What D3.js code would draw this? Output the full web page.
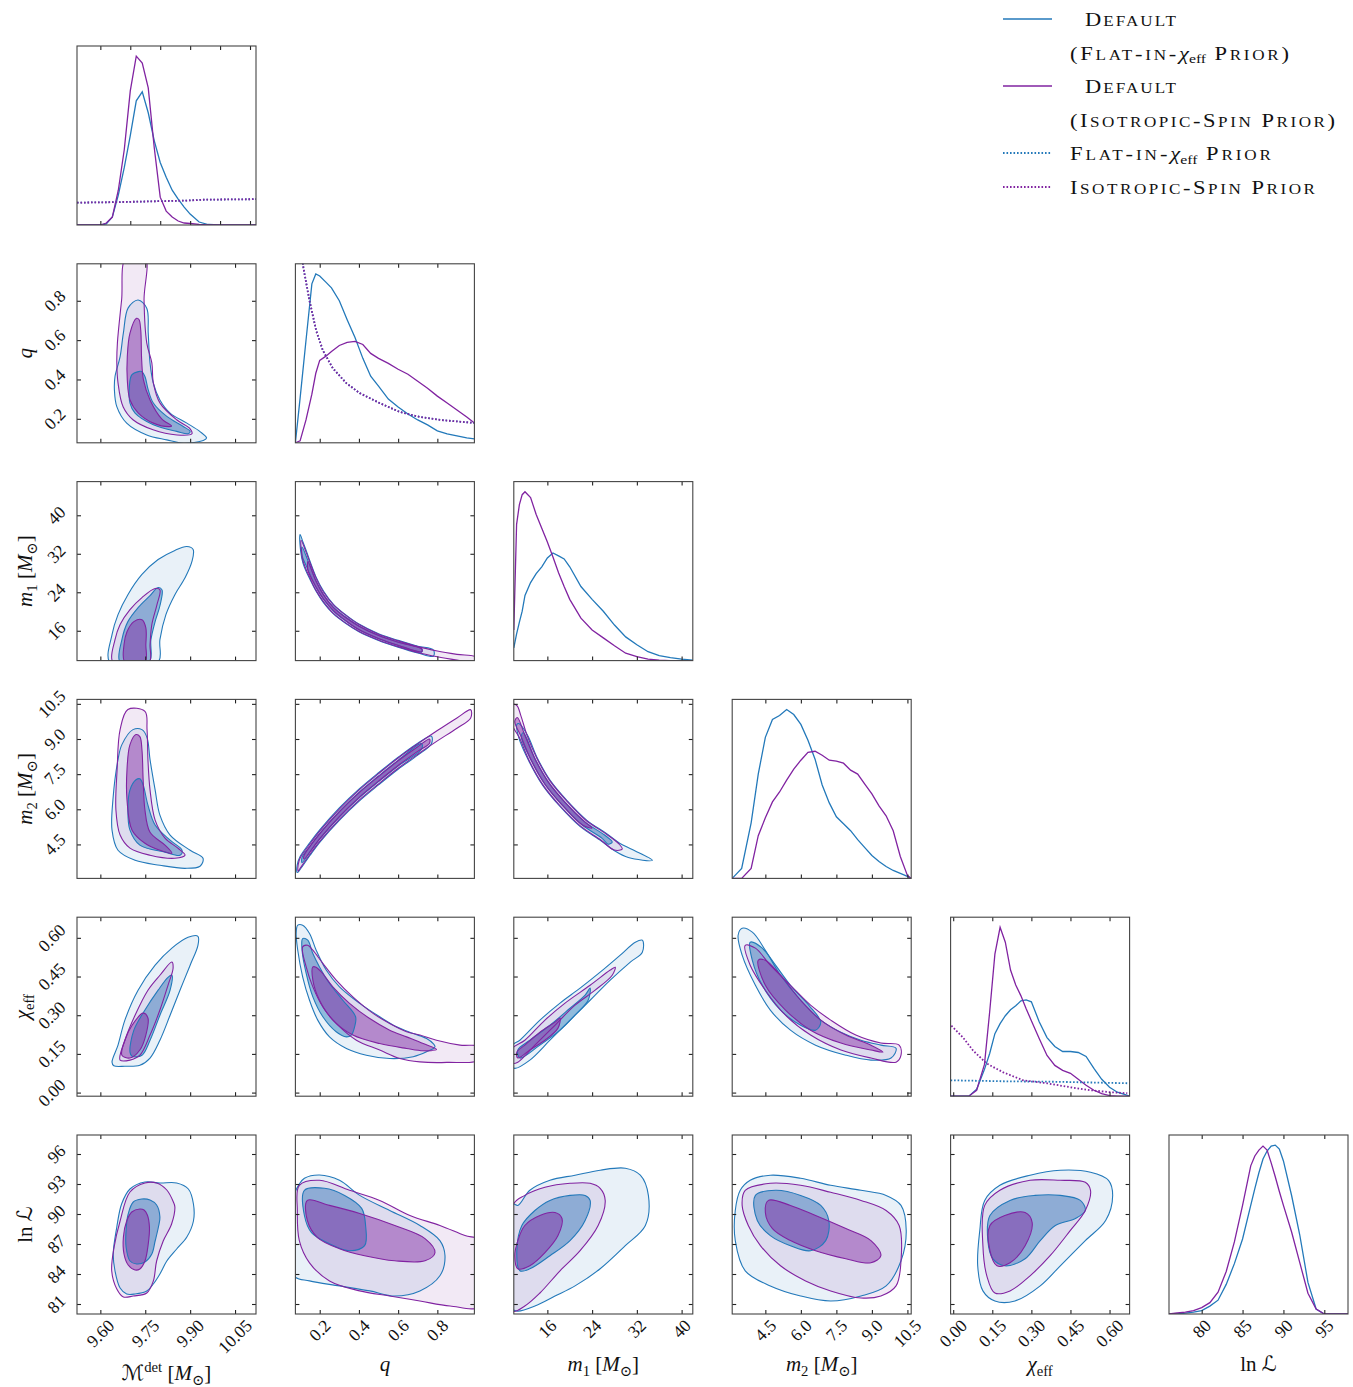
<!DOCTYPE html>
<html>
<head>
<meta charset="utf-8">
<script src="https://cdn.jsdelivr.net/npm/d3@7/dist/d3.min.js"></script>
<style>
  body { margin: 0; background: #fff; }
  text { font-family: "Liberation Serif", "DejaVu Serif", "DejaVu Sans", serif; fill: #111; }
</style>
</head>
<body>
<svg id="chart" width="1353" height="1387"></svg>
<script>
var BLUE = "#2379ba", PURPLE = "#8123a1";

// axis ranges
var mcRange = [9.522, 10.12];
var qRangeX = [0.076, 0.989], qRangeY = [0.078, 0.988];
var m1RangeX = [10.0, 42.0], m1RangeY = [9.8, 47.0];
var m2RangeX = [3.10, 10.66], m2RangeY = [3.05, 10.69];
var chiRangeX = [-0.01, 0.677], chiRangeY = [-0.014, 0.68];
var lnLRangeX = [76, 97.9], lnLRangeY = [80.0, 97.9];

// tick values
var mcTicks = [9.60, 9.75, 9.90, 10.05];
var mcDiagTicks = [9.6, 9.7, 9.8, 9.9, 10.0, 10.1];
var qTicks = [0.2, 0.4, 0.6, 0.8];
var m1Ticks = [16, 24, 32, 40];
var m2Ticks = [4.5, 6.0, 7.5, 9.0, 10.5];
var chiTicks = [0.00, 0.15, 0.30, 0.45, 0.60];
var lnLTicksY = [81, 84, 87, 90, 93, 96];
var lnLDiagTicks = [80, 85, 90, 95];

// ---- 1D marginals (relative density) ----
var mcGrid = [9.522, 9.55, 9.60, 9.62, 9.64, 9.66, 9.68, 9.70, 9.72, 9.74, 9.76, 9.78, 9.80, 9.82, 9.84, 9.86, 9.88, 9.90, 9.93, 9.96, 10.0, 10.05, 10.12];
var mcBlue = [0, 0, 0, 1, 8, 30, 58, 90, 125, 134, 113, 85, 63, 48, 35, 26, 18, 11, 3, 0.5, 0, 0, 0];
var mcPurple = [0, 0, 0, 2, 8, 35, 76, 135, 170, 163, 138, 78, 28, 14, 8, 4, 2, 1.5, 0.5, 0, 0, 0, 0];
var mcPriorX = [9.522, 9.65, 9.80, 9.88, 9.95, 10.12];
var mcPrior = [22.5, 23, 24, 24.5, 25.5, 26];

var qGrid = [0.076, 0.10, 0.13, 0.16, 0.18, 0.20, 0.23, 0.26, 0.30, 0.34, 0.38, 0.42, 0.46, 0.50, 0.55, 0.60, 0.65, 0.70, 0.75, 0.80, 0.85, 0.90, 0.95, 0.989];
var qBlue = [0, 45, 103, 160, 170, 168, 162, 156, 143, 124, 106, 85, 67, 57, 44, 36, 29, 23, 18, 12, 9, 7, 5, 4];
var qPurple = [0, 2, 23, 49, 70, 83, 87, 92, 98, 101, 102, 99, 90, 85, 80, 74, 69, 62, 55, 47, 40, 33, 26, 20];
var qPriorX = [0.105, 0.117, 0.148, 0.182, 0.216, 0.267, 0.336, 0.404, 0.506, 0.609, 0.711, 0.814, 0.989];
var qPrior = [195, 176, 143, 113, 93, 75, 60, 50, 40, 31, 26, 23, 20];

var m1Grid = [10, 10.5, 11, 11.5, 12, 13, 14, 15, 16, 17, 18, 19, 20, 22, 24, 26, 28, 30, 32, 34, 36, 38, 40, 42];
var m1Blue = [13, 27, 39, 50, 66, 79, 88, 95, 104, 109, 106, 103, 95, 75, 62, 50, 36, 24, 16, 9, 5, 3, 1.5, 0.5];
var m1Purple = [31, 138, 158, 168, 171, 165, 148, 134, 120, 105, 89, 75, 62, 43, 31, 23, 15, 7.5, 4, 1.5, 0.5, 0, 0, 0];

var m2Grid = [3.1, 3.5, 3.9, 4.2, 4.5, 4.8, 5.1, 5.4, 5.7, 6.0, 6.3, 6.6, 6.9, 7.2, 7.5, 7.8, 8.1, 8.4, 8.7, 9.0, 9.3, 9.6, 9.9, 10.2, 10.5, 10.66];
var m2Blue = [0, 10, 56, 105, 142, 160, 164, 170, 165, 155, 139, 120, 94, 76, 62, 55, 48, 39, 31, 23, 17, 12, 8, 5, 2, 0];
var m2Purple = [0, 0, 10, 43, 61, 77, 87, 99, 110, 119, 127, 128, 124, 119, 118, 116, 109, 105, 95, 85, 73, 63, 48, 22, 3, 0];

var chiGrid = [-0.01, 0.03, 0.06, 0.09, 0.12, 0.14, 0.16, 0.18, 0.20, 0.22, 0.24, 0.26, 0.28, 0.30, 0.33, 0.36, 0.39, 0.42, 0.45, 0.48, 0.51, 0.54, 0.57, 0.60, 0.63, 0.66, 0.677];
var chiBlue = [0, 0, 0, 7, 27, 43, 63, 73, 81, 87, 91, 96, 97, 95, 75, 59, 50, 45, 45, 44, 40, 28, 17, 9, 4, 1.5, 0];
var chiPurple = [0, 0, 0, 6, 32, 85, 143, 170, 155, 127, 112, 101, 88, 76, 58, 41, 31, 26, 23, 17, 11, 6, 2.5, 0.5, 0, 0, 0];
var chiBluePriorX = [-0.01, 0.2, 0.4, 0.677];
var chiBluePrior = [16, 15, 14.5, 13];
var chiPurplePriorX = [-0.007, 0.038, 0.076, 0.128, 0.192, 0.269, 0.36, 0.45, 0.527, 0.604, 0.668];
var chiPurplePrior = [71, 59, 46, 33, 24, 16, 13, 9, 6, 4, 3];

var lnLGrid = [76, 77, 78, 79, 80, 81, 82, 83, 84, 85, 86, 86.5, 87, 87.5, 88, 88.5, 89, 89.5, 90, 91, 92, 93, 94, 95, 96, 97.9];
var lnLBlue = [0, 0, 0.8, 2, 3.5, 8, 14, 30, 51, 76, 110, 127, 143, 157, 165, 170, 171, 167, 155, 120, 80, 32, 5, 0, 0, 0];
var lnLPurple = [0, 1, 1.8, 3.5, 6.5, 11.5, 22, 43, 73, 110, 150, 160, 166, 170, 166, 153, 139, 124, 110, 83, 52, 21, 5, 0, 0, 0];

// ---- 2D credible contours (outer / inner), data units [x, y] ----
var mcQ = {
  blueOuter: [[9.726,0.804],[9.693,0.764],[9.677,0.637],[9.666,0.516],[9.649,0.415],[9.647,0.347],[9.655,0.262],[9.688,0.178],[9.755,0.118],[9.822,0.093],[9.877,0.076],[9.944,0.090],[9.955,0.102],[9.933,0.135],[9.889,0.178],[9.833,0.229],[9.799,0.296],[9.777,0.381],[9.766,0.483],[9.760,0.635],[9.755,0.762]],
  blueInner: [[9.727,0.440],[9.705,0.423],[9.697,0.364],[9.699,0.280],[9.716,0.229],[9.777,0.170],[9.855,0.136],[9.894,0.124],[9.900,0.136],[9.877,0.161],[9.822,0.212],[9.777,0.280],[9.760,0.347],[9.749,0.415],[9.738,0.440]],
  purpleOuter: [[9.686,1.02],[9.671,0.804],[9.657,0.586],[9.655,0.484],[9.659,0.383],[9.676,0.261],[9.709,0.195],[9.776,0.144],[9.856,0.118],[9.906,0.124],[9.900,0.149],[9.855,0.195],[9.799,0.281],[9.777,0.383],[9.772,0.484],[9.755,0.586],[9.746,0.804],[9.749,1.02]],
  purpleInner: [[9.721,0.711],[9.699,0.636],[9.690,0.516],[9.690,0.398],[9.699,0.296],[9.727,0.229],[9.777,0.178],[9.830,0.160],[9.838,0.163],[9.805,0.200],[9.766,0.296],[9.744,0.398],[9.738,0.50],[9.735,0.65],[9.729,0.705]]
};
var mcM1 = {
  blueOuter: [[9.632,9.5],[9.639,15.2],[9.659,19.35],[9.692,23.5],[9.739,27.7],[9.793,30.8],[9.849,32.7],[9.889,33.5],[9.910,32.9],[9.906,30.4],[9.883,27.0],[9.849,23.5],[9.819,19.35],[9.799,14.15],[9.793,9.5]],
  blueInner: [[9.666,9.5],[9.672,14.15],[9.692,17.9],[9.726,20.8],[9.766,23.3],[9.793,25.0],[9.806,24.5],[9.799,21.2],[9.783,17.9],[9.769,14.15],[9.763,9.5]],
  purpleOuter: [[9.642,9.5],[9.649,14.15],[9.666,17.3],[9.699,20.4],[9.739,22.9],[9.783,24.8],[9.799,24.5],[9.789,21.4],[9.772,17.3],[9.766,13.1],[9.763,9.5]],
  purpleInner: [[9.682,9.5],[9.679,13.1],[9.689,15.8],[9.712,17.9],[9.739,18.3],[9.752,16.6],[9.752,13.1],[9.749,9.5]]
};
var mcM2 = {
  blueOuter: [[9.709,9.40],[9.672,8.76],[9.659,8.12],[9.642,6.40],[9.639,5.11],[9.659,4.25],[9.716,3.82],[9.799,3.61],[9.883,3.48],[9.933,3.57],[9.943,3.91],[9.900,4.25],[9.833,4.90],[9.799,5.75],[9.783,6.83],[9.766,8.12],[9.756,9.06],[9.739,9.40]],
  blueInner: [[9.719,7.26],[9.699,6.83],[9.692,5.97],[9.699,5.11],[9.732,4.47],[9.816,4.17],[9.866,4.04],[9.873,4.25],[9.833,4.68],[9.783,5.33],[9.759,6.18],[9.743,7.04],[9.732,7.30]],
  purpleOuter: [[9.692,10.26],[9.666,9.40],[9.656,7.69],[9.652,5.97],[9.666,4.90],[9.699,4.34],[9.766,4.04],[9.849,3.91],[9.883,4.04],[9.859,4.34],[9.816,4.77],[9.783,5.54],[9.766,6.83],[9.759,8.12],[9.756,9.40],[9.749,10.18]],
  purpleInner: [[9.719,9.19],[9.699,8.76],[9.689,7.69],[9.689,6.40],[9.706,5.11],[9.749,4.55],[9.799,4.25],[9.839,4.12],[9.816,4.47],[9.766,5.02],[9.749,5.97],[9.743,7.26],[9.739,8.54],[9.732,9.10]]
};
var mcChi = {
  blueOuter: [[9.639,0.118],[9.659,0.184],[9.682,0.281],[9.726,0.397],[9.783,0.494],[9.839,0.560],[9.893,0.602],[9.926,0.606],[9.926,0.571],[9.900,0.494],[9.866,0.397],[9.833,0.300],[9.799,0.203],[9.766,0.134],[9.732,0.106],[9.682,0.102],[9.645,0.104]],
  blueInner: [[9.699,0.157],[9.712,0.242],[9.749,0.320],[9.793,0.397],[9.826,0.447],[9.839,0.455],[9.833,0.397],[9.799,0.300],[9.766,0.203],[9.739,0.145],[9.706,0.141]],
  purpleOuter: [[9.666,0.126],[9.682,0.203],[9.716,0.300],[9.759,0.397],[9.799,0.455],[9.839,0.506],[9.843,0.482],[9.826,0.416],[9.799,0.320],[9.766,0.223],[9.732,0.145],[9.699,0.126]],
  purpleInner: [[9.672,0.145],[9.682,0.203],[9.706,0.261],[9.743,0.308],[9.759,0.289],[9.752,0.223],[9.732,0.165],[9.699,0.134]]
};
var mcLnL = {
  blueOuter: [[9.749,93.2],[9.699,92.5],[9.671,91.0],[9.655,88.7],[9.643,86.0],[9.649,84.3],[9.666,82.6],[9.688,82.0],[9.716,82.0],[9.755,82.3],[9.777,83.0],[9.799,84.0],[9.822,85.3],[9.855,86.5],[9.889,87.7],[9.911,89.3],[9.911,91.0],[9.894,92.5],[9.855,93.1],[9.799,93.1]],
  blueInner: [[9.738,91.5],[9.710,91.2],[9.693,90.0],[9.686,88.4],[9.686,86.7],[9.699,85.3],[9.721,85.0],[9.749,85.2],[9.772,86.0],[9.783,87.3],[9.794,88.7],[9.799,89.7],[9.788,90.9],[9.766,91.4]],
  purpleOuter: [[9.749,93.1],[9.699,92.2],[9.666,89.3],[9.646,86.7],[9.638,84.3],[9.655,82.5],[9.677,81.7],[9.710,81.8],[9.755,82.1],[9.777,83.3],[9.788,85.3],[9.810,87.3],[9.838,89.0],[9.849,90.7],[9.844,91.2],[9.822,92.4],[9.788,93.1]],
  purpleInner: [[9.732,90.5],[9.705,90.2],[9.688,89.3],[9.677,87.7],[9.679,86.0],[9.693,84.9],[9.716,84.4],[9.732,84.5],[9.749,85.3],[9.760,87.0],[9.764,88.7],[9.757,89.9],[9.746,90.4]]
};
var qM1 = {
  blueOuter: [[0.100,36.0],[0.115,34.4],[0.13,32.8],[0.15,30.5],[0.18,27.3],[0.22,24.2],[0.27,21.5],[0.33,19.4],[0.40,17.4],[0.50,15.4],[0.60,14.0],[0.70,12.8],[0.78,12.0],[0.78,10.7],[0.70,11.4],[0.60,12.6],[0.50,14.0],[0.40,15.8],[0.33,17.6],[0.27,19.5],[0.22,21.8],[0.18,24.3],[0.15,26.7],[0.13,28.4],[0.115,30.0],[0.103,32.5]],
  blueInner: [[0.11,33.4],[0.13,31.6],[0.15,29.5],[0.18,26.5],[0.22,23.5],[0.27,20.9],[0.33,18.9],[0.40,17.0],[0.50,15.05],[0.60,13.65],[0.72,12.3],[0.72,11.6],[0.60,12.95],[0.50,14.35],[0.40,16.2],[0.33,18.1],[0.27,20.1],[0.22,22.5],[0.18,25.1],[0.15,27.7],[0.13,29.6],[0.11,31.6]],
  purpleOuter: [[0.105,34.8],[0.13,32.4],[0.15,30.2],[0.18,27.1],[0.22,24.0],[0.27,21.4],[0.33,19.3],[0.40,17.3],[0.50,15.3],[0.60,13.9],[0.70,12.7],[0.80,11.8],[0.90,11.1],[1.0,10.5],[1.0,9.3],[0.90,9.9],[0.80,10.6],[0.70,11.5],[0.60,12.7],[0.50,14.1],[0.40,15.9],[0.33,17.7],[0.27,19.6],[0.22,22.0],[0.18,24.5],[0.15,27.0],[0.13,28.8],[0.112,31.0]],
  purpleInner: [[0.14,30.4],[0.18,26.4],[0.22,23.4],[0.27,20.8],[0.33,18.8],[0.40,16.95],[0.50,15.0],[0.60,13.6],[0.72,12.25],[0.72,11.65],[0.60,13.0],[0.50,14.4],[0.40,16.25],[0.33,18.2],[0.27,20.2],[0.22,22.6],[0.18,25.2],[0.14,28.6]]
};
var qM2 = {
  blueOuter: [[0.085,3.62],[0.10,3.98],[0.15,4.58],[0.20,5.12],[0.30,6.06],[0.40,6.86],[0.50,7.56],[0.60,8.22],[0.70,8.82],[0.77,9.12],[0.77,8.80],[0.70,8.31],[0.60,7.71],[0.50,7.04],[0.40,6.34],[0.30,5.53],[0.20,4.59],[0.15,4.03],[0.10,3.43],[0.085,3.30]],
  blueInner: [[0.11,3.95],[0.15,4.42],[0.20,4.97],[0.30,5.91],[0.40,6.72],[0.50,7.42],[0.60,8.09],[0.72,8.81],[0.72,8.57],[0.60,7.85],[0.50,7.18],[0.40,6.48],[0.30,5.67],[0.20,4.73],[0.15,4.18],[0.11,3.72]],
  purpleOuter: [[0.09,3.62],[0.10,3.92],[0.15,4.52],[0.20,5.07],[0.30,6.01],[0.40,6.82],[0.50,7.52],[0.60,8.19],[0.70,8.79],[0.80,9.36],[0.90,9.90],[0.97,10.25],[0.97,9.90],[0.90,9.46],[0.80,8.92],[0.70,8.35],[0.60,7.75],[0.50,7.08],[0.40,6.38],[0.30,5.57],[0.20,4.63],[0.15,4.08],[0.10,3.48],[0.09,3.36]],
  purpleInner: [[0.12,4.02],[0.20,4.95],[0.30,5.89],[0.40,6.70],[0.50,7.40],[0.60,8.07],[0.70,8.67],[0.76,9.0],[0.76,8.82],[0.70,8.47],[0.60,7.87],[0.50,7.20],[0.40,6.50],[0.30,5.69],[0.20,4.75],[0.12,3.88]]
};
var m1M2 = {
  blueOuter: [[10.90,9.66],[12.44,9.17],[14.20,8.19],[16.57,7.21],[19.48,6.38],[23.02,5.54],[26.48,4.98],[28.92,4.55],[31.18,4.28],[34.78,3.82],[30.47,3.94],[27.95,4.24],[25.58,4.66],[21.87,5.26],[18.22,6.13],[15.17,7.02],[12.73,8.04],[10.90,9.05],[10.54,9.62]],
  blueInner: [[11.71,9.27],[13.81,8.15],[16.18,7.16],[19.12,6.31],[22.69,5.46],[26.23,4.90],[27.59,4.6],[26.88,4.51],[25.83,4.75],[22.19,5.34],[18.58,6.20],[15.57,7.07],[13.14,8.08],[11.33,9.1]],
  purpleOuter: [[9.7,10.47],[10.54,10.43],[11.26,10.0],[12.35,9.17],[14.13,8.18],[16.5,7.2],[19.41,6.37],[22.94,5.52],[26.43,4.96],[28.85,4.51],[29.39,4.30],[27.95,4.26],[25.6,4.68],[21.94,5.28],[18.29,6.14],[15.24,7.03],[12.80,8.05],[10.99,9.06],[9.7,9.62]],
  purpleInner: [[10.63,9.92],[12.01,9.14],[13.79,8.15],[16.18,7.16],[19.12,6.31],[22.69,5.46],[24.0,5.2],[22.2,5.34],[18.58,6.20],[15.57,7.07],[13.14,8.08],[11.33,9.09],[10.18,9.75]]
};
var qChi = {
  blueOuter: [[0.088,0.649],[0.080,0.617],[0.088,0.552],[0.113,0.449],[0.148,0.358],[0.190,0.281],[0.250,0.216],[0.336,0.171],[0.438,0.145],[0.557,0.132],[0.677,0.139],[0.745,0.158],[0.788,0.177],[0.779,0.190],[0.745,0.210],[0.677,0.229],[0.592,0.255],[0.506,0.294],[0.404,0.346],[0.301,0.410],[0.233,0.475],[0.182,0.552],[0.148,0.617],[0.113,0.649]],
  blueInner: [[0.113,0.597],[0.110,0.552],[0.131,0.462],[0.165,0.371],[0.216,0.294],[0.284,0.236],[0.336,0.216],[0.361,0.223],[0.378,0.255],[0.383,0.294],[0.318,0.358],[0.250,0.423],[0.199,0.487],[0.165,0.539],[0.139,0.591]],
  purpleOuter: [[0.113,0.565],[0.131,0.487],[0.165,0.410],[0.216,0.332],[0.284,0.268],[0.387,0.203],[0.506,0.165],[0.609,0.132],[0.711,0.119],[0.848,0.117],[1.02,0.128],[1.02,0.177],[0.916,0.184],[0.796,0.203],[0.711,0.223],[0.643,0.236],[0.557,0.268],[0.472,0.307],[0.369,0.371],[0.284,0.436],[0.216,0.501],[0.165,0.552],[0.139,0.571]],
  purpleInner: [[0.165,0.487],[0.165,0.436],[0.199,0.358],[0.267,0.281],[0.369,0.223],[0.506,0.190],[0.643,0.171],[0.728,0.162],[0.796,0.167],[0.728,0.190],[0.643,0.216],[0.557,0.242],[0.455,0.287],[0.352,0.346],[0.267,0.410],[0.208,0.468],[0.178,0.487]]
};
var qLnL = {
  blueOuter: [[0.122,93.57],[0.199,93.9],[0.301,93.37],[0.404,91.86],[0.557,90.35],[0.711,88.85],[0.813,87.34],[0.839,85.83],[0.813,83.82],[0.711,82.31],[0.583,81.80],[0.455,82.31],[0.301,82.81],[0.148,83.31],[0.07,83.82],[0.07,91.86],[0.096,93.0]],
  blueInner: [[0.122,92.37],[0.224,92.57],[0.327,91.86],[0.414,90.56],[0.434,88.85],[0.429,86.83],[0.352,86.33],[0.250,87.03],[0.158,88.14],[0.122,89.85]],
  purpleOuter: [[0.096,92.87],[0.199,93.37],[0.352,92.37],[0.506,91.36],[0.660,89.85],[0.813,88.85],[0.941,87.84],[1.02,87.34],[1.02,80.80],[0.865,80.80],[0.711,81.30],[0.557,81.80],[0.404,82.31],[0.250,83.31],[0.148,85.12],[0.096,87.34],[0.086,90.35]],
  purpleInner: [[0.137,91.36],[0.250,90.86],[0.404,90.05],[0.583,88.85],[0.737,87.54],[0.788,86.13],[0.737,85.32],[0.583,85.32],[0.429,85.83],[0.301,86.53],[0.189,87.64],[0.137,89.35]]
};
var m1Chi = {
  blueOuter: [[9.8,0.184],[11.08,0.203],[14.67,0.281],[18.26,0.347],[21.85,0.405],[25.44,0.467],[29.03,0.533],[31.72,0.583],[32.98,0.591],[32.98,0.544],[30.83,0.506],[27.24,0.436],[23.64,0.358],[20.05,0.281],[16.46,0.203],[12.87,0.126],[10.18,0.094],[9.8,0.10]],
  blueInner: [[10.72,0.165],[12.87,0.203],[16.46,0.261],[20.05,0.327],[22.75,0.378],[23.64,0.405],[23.29,0.358],[20.95,0.300],[18.26,0.242],[14.67,0.184],[11.08,0.134]],
  purpleOuter: [[9.8,0.172],[11.97,0.203],[15.57,0.281],[19.16,0.347],[23.64,0.416],[27.24,0.475],[28.13,0.486],[27.59,0.455],[24.54,0.397],[20.95,0.339],[17.36,0.261],[13.77,0.184],[10.72,0.118],[9.8,0.114]],
  purpleInner: [[10.54,0.157],[11.97,0.184],[14.67,0.234],[17.36,0.273],[18.26,0.289],[17.90,0.250],[15.57,0.203],[12.87,0.165],[10.72,0.134]]
};
var m1LnL = {
  blueOuter: [[9.8,91.0],[10.72,90.86],[12.87,92.37],[16.46,93.37],[20.95,93.88],[25.44,94.38],[29.93,94.58],[32.62,93.88],[34.06,91.86],[33.52,88.85],[29.93,86.83],[25.44,84.52],[20.95,82.81],[17.36,81.80],[13.77,80.80],[10.72,80.29],[9.8,80.5]],
  blueInner: [[11.44,88.85],[13.77,90.35],[16.46,91.36],[20.05,91.86],[22.75,91.86],[23.64,91.36],[22.75,89.35],[20.05,87.34],[16.46,85.83],[12.87,84.52],[11.08,84.32],[10.54,86.33]],
  purpleOuter: [[9.8,90.86],[11.97,91.86],[15.57,92.67],[20.05,93.07],[23.64,93.07],[25.44,92.57],[26.34,91.36],[25.08,88.85],[21.85,86.33],[18.26,84.32],[14.67,82.10],[11.97,80.80],[9.8,80.29]],
  purpleInner: [[10.72,87.34],[11.97,88.85],[14.67,89.85],[17.36,90.15],[18.62,89.55],[17.90,87.84],[15.57,86.13],[12.87,84.82],[10.72,84.52],[10.18,85.83]]
};
var m2Chi = {
  blueOuter: [[3.52,0.637],[3.35,0.610],[3.52,0.533],[4.08,0.416],[4.71,0.320],[5.56,0.242],[6.62,0.184],[7.90,0.145],[8.96,0.126],[9.81,0.134],[10.02,0.172],[9.38,0.184],[8.54,0.203],[7.69,0.234],[6.84,0.281],[5.99,0.358],[5.14,0.455],[4.50,0.552],[3.95,0.622]],
  blueInner: [[3.86,0.583],[3.95,0.513],[4.37,0.416],[5.14,0.320],[5.99,0.261],[6.62,0.242],[6.84,0.273],[6.33,0.339],[5.56,0.416],[4.93,0.494],[4.37,0.560]],
  purpleOuter: [[3.65,0.571],[3.86,0.494],[4.50,0.397],[5.35,0.300],[6.41,0.223],[7.69,0.165],[8.96,0.134],[10.02,0.118],[10.23,0.145],[10.15,0.184],[9.38,0.192],[8.32,0.223],[7.26,0.281],[6.41,0.339],[5.56,0.416],[4.71,0.494],[4.08,0.560]],
  purpleInner: [[4.20,0.513],[4.50,0.416],[5.35,0.320],[6.41,0.242],[7.69,0.192],[8.96,0.165],[9.47,0.157],[8.96,0.184],[7.90,0.223],[6.84,0.281],[5.99,0.358],[5.14,0.455],[4.50,0.513]]
};
var m2LnL = {
  blueOuter: [[3.44,92.37],[3.86,93.37],[4.71,93.88],[5.99,93.57],[7.26,92.87],[8.54,92.37],[9.60,91.86],[10.23,90.86],[10.45,88.34],[10.23,85.32],[9.60,82.81],[8.54,81.80],[7.26,81.30],[5.99,81.80],[4.71,82.81],[3.65,84.32],[3.23,87.34],[3.23,90.35]],
  blueInner: [[4.08,91.86],[4.93,92.37],[5.99,91.86],[6.84,90.86],[7.18,89.35],[7.05,87.34],[6.41,86.33],[5.56,86.83],[4.71,87.84],[4.16,89.35]],
  purpleOuter: [[3.65,92.37],[4.71,93.07],[5.99,92.87],[7.26,92.17],[8.54,91.36],[9.60,90.35],[10.15,88.85],[10.23,85.32],[10.02,82.81],[9.38,81.80],[8.54,81.60],[7.26,82.31],[6.20,83.31],[5.14,84.82],[4.29,86.83],[3.78,88.85],[3.52,90.86]],
  purpleInner: [[4.63,91.36],[5.56,90.86],[6.62,89.85],[7.90,88.54],[8.96,87.34],[9.38,85.83],[8.96,85.12],[7.90,85.53],[6.62,86.33],[5.56,87.34],[4.80,88.54],[4.50,90.15]]
};
var chiLnL = {
  blueOuter: [[0.121,91.36],[0.179,92.87],[0.295,93.88],[0.411,94.38],[0.527,94.18],[0.596,93.37],[0.612,91.86],[0.585,89.35],[0.507,87.34],[0.411,84.82],[0.334,82.81],[0.237,81.30],[0.160,81.30],[0.114,82.31],[0.094,84.82],[0.102,88.34]],
  blueInner: [[0.141,89.85],[0.218,91.36],[0.314,91.86],[0.411,91.86],[0.488,91.36],[0.507,90.35],[0.469,89.55],[0.392,88.85],[0.334,87.34],[0.276,85.53],[0.198,84.82],[0.152,85.53],[0.133,87.34]],
  purpleOuter: [[0.121,90.86],[0.179,92.37],[0.295,93.37],[0.411,93.37],[0.507,93.17],[0.527,92.37],[0.507,90.35],[0.449,88.34],[0.372,85.83],[0.295,83.82],[0.218,82.31],[0.160,82.10],[0.129,83.82],[0.114,86.83]],
  purpleInner: [[0.141,88.85],[0.198,89.85],[0.276,90.15],[0.303,89.15],[0.276,86.83],[0.218,85.12],[0.168,84.82],[0.141,86.33]]
};

var params = [
  { xDom: mcRange, yDom: mcRange, ticks: mcTicks, diagTicks: mcDiagTicks, fmt: d3.format(".2f") },
  { xDom: qRangeX, yDom: qRangeY, ticks: qTicks, diagTicks: qTicks, fmt: d3.format(".1f") },
  { xDom: m1RangeX, yDom: m1RangeY, ticks: m1Ticks, diagTicks: m1Ticks, fmt: d3.format("d") },
  { xDom: m2RangeX, yDom: m2RangeY, ticks: m2Ticks, diagTicks: m2Ticks, fmt: d3.format(".1f") },
  { xDom: chiRangeX, yDom: chiRangeY, ticks: chiTicks, diagTicks: chiTicks, fmt: d3.format(".2f") },
  { xDom: lnLRangeX, yDom: lnLRangeY, ticks: lnLTicksY, diagTicks: lnLDiagTicks, fmt: d3.format("d") }
];

var diag = [
  { x: mcGrid, blue: mcBlue, purple: mcPurple, priors: [[mcPriorX, mcPrior, BLUE], [mcPriorX, mcPrior, PURPLE]] },
  { x: qGrid, blue: qBlue, purple: qPurple, priors: [[qPriorX, qPrior, BLUE], [qPriorX, qPrior, PURPLE]] },
  { x: m1Grid, blue: m1Blue, purple: m1Purple, priors: [] },
  { x: m2Grid, blue: m2Blue, purple: m2Purple, priors: [] },
  { x: chiGrid, blue: chiBlue, purple: chiPurple, priors: [[chiBluePriorX, chiBluePrior, BLUE], [chiPurplePriorX, chiPurplePrior, PURPLE]] },
  { x: lnLGrid, blue: lnLBlue, purple: lnLPurple, priors: [] }
];

var pairs = {
  "1-0": mcQ, "2-0": mcM1, "2-1": qM1, "3-0": mcM2, "3-1": qM2, "3-2": m1M2,
  "4-0": mcChi, "4-1": qChi, "4-2": m1Chi, "4-3": m2Chi,
  "5-0": mcLnL, "5-1": qLnL, "5-2": m1LnL, "5-3": m2LnL, "5-4": chiLnL
};

var mSun = [{ t: " [" }, { t: "M", it: 1 }, { t: "\u2299", sub: 1 }, { t: "]" }];
var axisLabels = [
  [{ t: "\u2133" }, { t: "det", sup: 1 }].concat(mSun),
  [{ t: "q", it: 1 }],
  [{ t: "m", it: 1 }, { t: "1", sub: 1 }].concat(mSun),
  [{ t: "m", it: 1 }, { t: "2", sub: 1 }].concat(mSun),
  [{ t: "\u03c7", it: 1 }, { t: "eff", sub: 1 }],
  [{ t: "ln " }, { t: "\u2112" }]
];
var leftLabelX = [0, 32, 32, 32, 29, 32];

// ---- drawing ----
var svg = d3.select("#chart");
var size = 179, left0 = 77, top0 = 46, stepX = 218.4, stepY = 217.8;
var TICKFS = 17.5;

function richText(sel, parts, fs) {
  parts.forEach(function (p) {
    var ts = sel.append("tspan").text(p.t);
    if (p.it) ts.style("font-style", "italic");
    if (p.sub) ts.attr("font-size", fs * 0.7).attr("baseline-shift", (-0.22 * fs) + "px");
    if (p.sup) ts.attr("font-size", fs * 0.7).attr("baseline-shift", (0.4 * fs) + "px");
  });
}

function inwardTicks(g, xs, ys, xt, yt) {
  var a = [
    g.append("g").attr("transform", "translate(0," + size + ")").call(d3.axisBottom(xs).tickValues(xt).tickSize(-4).tickFormat("")),
    g.append("g").call(d3.axisTop(xs).tickValues(xt).tickSize(-4).tickFormat(""))
  ];
  if (ys) {
    a.push(g.append("g").call(d3.axisLeft(ys).tickValues(yt).tickSize(-4).tickFormat("")));
    a.push(g.append("g").attr("transform", "translate(" + size + ",0)").call(d3.axisRight(ys).tickValues(yt).tickSize(-4).tickFormat("")));
  }
  a.forEach(function (s) {
    s.select(".domain").remove();
    s.selectAll(".tick line").attr("stroke", "#222").attr("stroke-width", 1.1);
  });
}

function xTickLabels(g, xs, ticks, fmt) {
  ticks.forEach(function (v) {
    var t = g.append("text").text(fmt(v)).attr("font-size", TICKFS)
      .attr("text-anchor", "middle").attr("dominant-baseline", "central");
    var w = t.node().getComputedTextLength();
    var bh = (w + TICKFS * 0.72) * Math.SQRT1_2;
    t.attr("transform", "translate(" + xs(v) + "," + (size + 4 + bh / 2) + ") rotate(-45)");
  });
}

function yTickLabels(g, ys, ticks, fmt) {
  ticks.forEach(function (v) {
    var t = g.append("text").text(fmt(v)).attr("font-size", TICKFS)
      .attr("text-anchor", "middle").attr("dominant-baseline", "central");
    var w = t.node().getComputedTextLength();
    var bw = (w + TICKFS * 0.72) * Math.SQRT1_2;
    t.attr("transform", "translate(" + (-10 - bw / 2) + "," + ys(v) + ") rotate(-45)");
  });
}

var defs = svg.append("defs");

for (var r = 0; r < 6; r++) {
  for (var c = 0; c <= r; c++) {
    var x0 = left0 + c * stepX, y0 = top0 + r * stepY;
    var g = svg.append("g").attr("transform", "translate(" + x0 + "," + y0 + ")");
    var cid = "clip-" + r + "-" + c;
    defs.append("clipPath").attr("id", cid).append("rect").attr("width", size).attr("height", size);
    var body = g.append("g").attr("clip-path", "url(#" + cid + ")");
    var xs = d3.scaleLinear().domain(params[c].xDom).range([0, size]);

    if (r === c) {
      var d = diag[c];
      var ymax = d3.max(d.blue.concat(d.purple)) * 1.06;
      var ys1 = d3.scaleLinear().domain([0, ymax]).range([size, 0]);
      var ln = d3.line().x(function (p) { return xs(p[0]); }).y(function (p) { return ys1(p[1]); });
      body.append("path").attr("d", ln(d3.zip(d.x, d.blue))).attr("fill", "none").attr("stroke", BLUE).attr("stroke-width", 1.3);
      body.append("path").attr("d", ln(d3.zip(d.x, d.purple))).attr("fill", "none").attr("stroke", PURPLE).attr("stroke-width", 1.3);
      d.priors.forEach(function (pr) {
        body.append("path").attr("d", ln(d3.zip(pr[0], pr[1]))).attr("fill", "none")
          .attr("stroke", pr[2]).attr("stroke-width", 1.8).attr("stroke-dasharray", "1.6,1.9");
      });
      inwardTicks(g, xs, null, params[c].diagTicks, null);
      if (r === 5) xTickLabels(g, xs, params[c].diagTicks, params[c].fmt);
    } else {
      var ys = d3.scaleLinear().domain(params[r].yDom).range([size, 0]);
      var cont = pairs[r + "-" + c];
      var shape = d3.line().curve(d3.curveCatmullRomClosed.alpha(0.5))
        .x(function (p) { return xs(p[0]); }).y(function (p) { return ys(p[1]); });
      [[cont.blueOuter, cont.blueInner, BLUE], [cont.purpleOuter, cont.purpleInner, PURPLE]].forEach(function (set) {
        body.append("path").attr("d", shape(set[0])).attr("fill", set[2]).attr("fill-opacity", 0.1).attr("stroke", "none");
        body.append("path").attr("d", shape(set[1])).attr("fill", set[2]).attr("fill-opacity", 0.45).attr("stroke", "none");
      });
      [[cont.blueOuter, BLUE], [cont.blueInner, BLUE], [cont.purpleOuter, PURPLE], [cont.purpleInner, PURPLE]].forEach(function (set) {
        body.append("path").attr("d", shape(set[0])).attr("fill", "none").attr("stroke", set[1]).attr("stroke-width", 1.1);
      });
      inwardTicks(g, xs, ys, params[c].ticks, params[r].ticks);
      if (r === 5) xTickLabels(g, xs, params[c].ticks, params[c].fmt);
      if (c === 0) yTickLabels(g, ys, params[r].ticks, params[r].fmt);
    }
    g.append("rect").attr("width", size).attr("height", size).attr("fill", "none")
      .attr("stroke", "#444").attr("stroke-width", 1.1);
  }
}

// axis titles
var LABELFS = 21;
for (var i = 0; i < 6; i++) {
  var cx = left0 + i * stepX + size / 2;
  var bt = svg.append("text").attr("x", cx).attr("y", i === 0 ? 1380 : 1371)
    .attr("text-anchor", "middle").attr("font-size", LABELFS);
  richText(bt, axisLabels[i], LABELFS);
  if (i > 0) {
    var cy = top0 + i * stepY + size / 2;
    var lt = svg.append("text").attr("transform", "translate(" + leftLabelX[i] + "," + cy + ") rotate(-90)")
      .attr("text-anchor", "middle").attr("font-size", LABELFS);
    richText(lt, axisLabels[i], LABELFS);
  }
}

// legend (small caps built by hand)
var LEGFS = 18, SC = 0.76, SX = 1.25;
var chiEff = [{ t: "\u03c7", it: 1 }, { t: "eff", sub: 1 }];
var legendItems = [
  { color: BLUE, dash: null, y: 19, rows: [[[{ sc: "Default" }], 1085, 91], [[{ sc: "(Flat-in-" }].concat(chiEff, [{ sc: " Prior)" }]), 1070, 219]] },
  { color: PURPLE, dash: null, y: 86, rows: [[[{ sc: "Default" }], 1085, 91], [[{ sc: "(Isotropic-Spin Prior)" }], 1070, 265]] },
  { color: BLUE, dash: "1.6,1.9", y: 153, rows: [[[{ sc: "Flat-in-" }].concat(chiEff, [{ sc: " Prior" }]), 1070, 201]] },
  { color: PURPLE, dash: "1.6,1.9", y: 187, rows: [[[{ sc: "Isotropic-Spin Prior" }], 1070, 245]] }
];

function smallCapsText(x, y, parts, target) {
  var t = svg.append("text").attr("font-size", LEGFS)
    .attr("transform", "translate(" + x + "," + y + ") scale(" + SX + ",1)");
  var scSpans = [], scChars = 0;
  parts.forEach(function (p) {
    if (p.sc) {
      var runs = [];
      p.sc.split("").forEach(function (ch) {
        var small = /[a-z]/.test(ch);
        if (runs.length && runs[runs.length - 1].small === small) runs[runs.length - 1].s += ch;
        else runs.push({ small: small, s: ch });
      });
      runs.forEach(function (run) {
        var ts = t.append("tspan").text(run.s.toUpperCase());
        if (run.small) ts.attr("font-size", LEGFS * SC);
        scSpans.push(ts);
        scChars += run.s.length;
      });
    } else {
      richText(t, [p], LEGFS);
    }
  });
  var len = t.node().getComputedTextLength();
  var ls = (target / SX - len) / Math.max(scChars - 1, 1);
  scSpans.forEach(function (ts) { ts.attr("letter-spacing", ls); });
}

legendItems.forEach(function (it) {
  svg.append("line").attr("x1", 1003).attr("x2", 1052).attr("y1", it.y).attr("y2", it.y)
    .attr("stroke", it.color).attr("stroke-width", it.dash ? 1.8 : 1.3)
    .attr("stroke-dasharray", it.dash);
  it.rows.forEach(function (row, k) {
    smallCapsText(row[1], it.y + 7 + k * 33.5, row[0], row[2]);
  });
});
</script>
</body>
</html>
